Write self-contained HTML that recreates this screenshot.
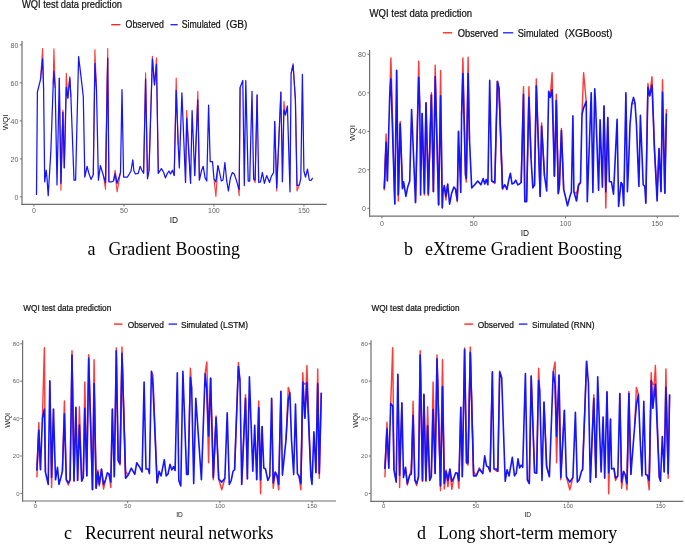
<!DOCTYPE html>
<html><head><meta charset="utf-8"><title>WQI test data prediction</title>
<style>html,body{margin:0;padding:0;background:#fff;width:685px;height:544px;overflow:hidden}svg{display:block}</style>
</head><body>
<svg width="685" height="544" viewBox="0 0 685 544" font-family='"Liberation Sans", Arial, sans-serif'>
<rect width="685" height="544" fill="#fff"/>
<text x="22" y="8.3" font-size="10.6" fill="#111" stroke="#111" stroke-width="0.22" textLength="100.0" lengthAdjust="spacingAndGlyphs">WQI test data prediction</text>
<line x1="111.2" y1="24.7" x2="120.4" y2="24.7" stroke="#ff1a1a" stroke-width="1.3"/>
<line x1="170.5" y1="24.7" x2="177.7" y2="24.7" stroke="#1a1aff" stroke-width="1.3"/>
<text x="125.6" y="27.8" font-size="10.2" fill="#111" stroke="#111" stroke-width="0.22" textLength="38.2" lengthAdjust="spacingAndGlyphs">Observed</text>
<text x="181.8" y="27.8" font-size="10.2" fill="#111" stroke="#111" stroke-width="0.22" textLength="38.8" lengthAdjust="spacingAndGlyphs">Simulated</text>
<text x="226" y="27.8" font-size="10.8" fill="#111" stroke="#111" stroke-width="0.22" textLength="21.4" lengthAdjust="spacingAndGlyphs">(GB)</text>
<line x1="22" y1="41" x2="22" y2="204.9" stroke="#6e6e6e" stroke-width="1.2"/>
<line x1="21.4" y1="204.3" x2="326.7" y2="204.3" stroke="#6e6e6e" stroke-width="1.2"/>
<line x1="19.8" y1="44.9" x2="22" y2="44.9" stroke="#6e6e6e" stroke-width="1"/>
<text x="18.4" y="47.7" font-size="7.7" fill="#606060" text-anchor="end" textLength="7.80" lengthAdjust="spacingAndGlyphs">80</text>
<line x1="19.8" y1="82.9" x2="22" y2="82.9" stroke="#6e6e6e" stroke-width="1"/>
<text x="18.4" y="85.7" font-size="7.7" fill="#606060" text-anchor="end" textLength="7.80" lengthAdjust="spacingAndGlyphs">60</text>
<line x1="19.8" y1="120.9" x2="22" y2="120.9" stroke="#6e6e6e" stroke-width="1"/>
<text x="18.4" y="123.7" font-size="7.7" fill="#606060" text-anchor="end" textLength="7.80" lengthAdjust="spacingAndGlyphs">40</text>
<line x1="19.8" y1="158.9" x2="22" y2="158.9" stroke="#6e6e6e" stroke-width="1"/>
<text x="18.4" y="161.7" font-size="7.7" fill="#606060" text-anchor="end" textLength="7.80" lengthAdjust="spacingAndGlyphs">20</text>
<line x1="19.8" y1="196.9" x2="22" y2="196.9" stroke="#6e6e6e" stroke-width="1"/>
<text x="18.4" y="199.7" font-size="7.7" fill="#606060" text-anchor="end" textLength="3.90" lengthAdjust="spacingAndGlyphs">0</text>
<line x1="33.9" y1="204.3" x2="33.9" y2="206.5" stroke="#6e6e6e" stroke-width="1"/>
<text x="33.9" y="213.2" font-size="7.7" fill="#606060" text-anchor="middle" textLength="3.90" lengthAdjust="spacingAndGlyphs">0</text>
<line x1="123.9" y1="204.3" x2="123.9" y2="206.5" stroke="#6e6e6e" stroke-width="1"/>
<text x="123.9" y="213.2" font-size="7.7" fill="#606060" text-anchor="middle" textLength="7.80" lengthAdjust="spacingAndGlyphs">50</text>
<line x1="213.9" y1="204.3" x2="213.9" y2="206.5" stroke="#6e6e6e" stroke-width="1"/>
<text x="213.9" y="213.2" font-size="7.7" fill="#606060" text-anchor="middle" textLength="11.70" lengthAdjust="spacingAndGlyphs">100</text>
<line x1="303.9" y1="204.3" x2="303.9" y2="206.5" stroke="#6e6e6e" stroke-width="1"/>
<text x="303.9" y="213.2" font-size="7.7" fill="#606060" text-anchor="middle" textLength="11.70" lengthAdjust="spacingAndGlyphs">150</text>
<text x="173.9" y="223.3" font-size="8.3" fill="#111" text-anchor="middle">ID</text>
<text transform="translate(5.0,122.4) rotate(-90)" x="0" y="2.8" font-size="7.9" fill="#111" text-anchor="middle">WQI</text>
<polyline points="40.5,79.7 42.6,48.5 43.6,89.0" fill="none" stroke="#ff3a3a" stroke-width="1.12" stroke-linejoin="round"/>
<polyline points="53.2,84.3 53.9,48.8 55.2,88.0" fill="none" stroke="#ff3a3a" stroke-width="1.12" stroke-linejoin="round"/>
<polyline points="59.3,78.1 60.9,190.3 62.9,112.1" fill="none" stroke="#ff3a3a" stroke-width="1.12" stroke-linejoin="round"/>
<polyline points="60.9,183.3 62.9,110.0 64.3,167.9" fill="none" stroke="#ff3a3a" stroke-width="1.12" stroke-linejoin="round"/>
<polyline points="64.3,167.9 66.3,73.2 67.8,98.2" fill="none" stroke="#ff3a3a" stroke-width="1.12" stroke-linejoin="round"/>
<polyline points="67.8,98.2 69.8,76.6 70.9,96.7" fill="none" stroke="#ff3a3a" stroke-width="1.12" stroke-linejoin="round"/>
<polyline points="93.3,174.8 94.9,49.6 96.5,90.0" fill="none" stroke="#ff3a3a" stroke-width="1.12" stroke-linejoin="round"/>
<polyline points="103.5,176.0 105.5,189.5 107.7,58.1" fill="none" stroke="#ff3a3a" stroke-width="1.12" stroke-linejoin="round"/>
<polyline points="105.5,182.5 107.7,48.5 108.9,181.8" fill="none" stroke="#ff3a3a" stroke-width="1.12" stroke-linejoin="round"/>
<polyline points="113.5,181.0 115.1,170.2 117.1,183.3" fill="none" stroke="#ff3a3a" stroke-width="1.12" stroke-linejoin="round"/>
<polyline points="115.1,174.0 117.1,191.8 120.5,172.5" fill="none" stroke="#ff3a3a" stroke-width="1.12" stroke-linejoin="round"/>
<polyline points="143.6,173.3 145.6,72.7 147.5,178.7" fill="none" stroke="#ff3a3a" stroke-width="1.12" stroke-linejoin="round"/>
<polyline points="149.0,171.0 152.4,56.2 154.5,85.0" fill="none" stroke="#ff3a3a" stroke-width="1.12" stroke-linejoin="round"/>
<polyline points="154.5,85.0 156.5,57.8 158.3,173.3" fill="none" stroke="#ff3a3a" stroke-width="1.12" stroke-linejoin="round"/>
<polyline points="174.2,175.6 176.2,78.1 178.2,144.7" fill="none" stroke="#ff3a3a" stroke-width="1.12" stroke-linejoin="round"/>
<polyline points="185.5,182.5 186.7,110.6 190.6,183.3" fill="none" stroke="#ff3a3a" stroke-width="1.12" stroke-linejoin="round"/>
<polyline points="194.7,175.6 197.8,91.3 199.4,180.2" fill="none" stroke="#ff3a3a" stroke-width="1.12" stroke-linejoin="round"/>
<polyline points="214.0,178.7 215.9,196.4 217.9,165.6" fill="none" stroke="#ff3a3a" stroke-width="1.12" stroke-linejoin="round"/>
<polyline points="238.1,186.4 239.2,195.7 240.1,87.4" fill="none" stroke="#ff3a3a" stroke-width="1.12" stroke-linejoin="round"/>
<polyline points="253.6,178.7 255.1,182.5 257.1,94.8" fill="none" stroke="#ff3a3a" stroke-width="1.12" stroke-linejoin="round"/>
<polyline points="274.7,121.4 276.7,191.0 280.9,92.0" fill="none" stroke="#ff3a3a" stroke-width="1.12" stroke-linejoin="round"/>
<polyline points="282.4,181.8 283.9,101.3 285.5,115.0" fill="none" stroke="#ff3a3a" stroke-width="1.12" stroke-linejoin="round"/>
<polyline points="291.1,73.5 293.1,63.5 295.4,99.8" fill="none" stroke="#ff3a3a" stroke-width="1.12" stroke-linejoin="round"/>
<polyline points="295.4,99.8 297.0,191.0 299.3,184.9" fill="none" stroke="#ff3a3a" stroke-width="1.12" stroke-linejoin="round"/>
<polyline points="36.5,194.9 37.4,92.0 40.5,79.7 42.6,58.8 43.6,89.0 44.7,181.8 46.2,170.2 47.0,178.0 48.2,195.7 50.8,152.4 53.2,84.3 53.9,71.2 55.2,88.0 57.0,184.9 59.3,78.1 60.9,183.3 62.9,112.1 64.3,167.9 66.3,87.4 67.8,98.2 69.8,78.1 70.9,96.7 74.0,180.2 75.6,180.2 78.6,56.5 81.0,76.6 83.3,96.7 84.8,177.1 87.1,166.3 88.6,172.5 91.0,179.4 93.3,174.8 94.9,63.5 96.5,90.0 98.4,180.2 100.4,165.6 102.0,171.0 103.5,176.0 105.5,182.5 107.7,58.1 108.9,181.8 112.0,181.8 113.5,181.0 115.1,174.0 117.1,183.3 120.5,172.5 122.0,89.7 123.6,177.1 127.4,177.1 129.7,173.3 131.0,171.0 132.8,159.8 133.9,171.0 135.5,174.0 138.2,173.3 140.1,166.3 141.7,170.0 143.6,173.3 145.6,78.9 147.5,178.7 149.0,171.0 152.4,58.8 154.5,85.0 156.5,64.3 158.3,173.3 161.4,168.6 163.7,172.5 165.4,177.9 167.4,173.3 169.0,171.0 170.5,174.0 172.4,170.2 174.2,175.6 176.2,90.5 178.2,144.7 179.3,167.9 181.9,92.8 185.5,182.5 186.7,118.3 190.6,183.3 192.1,110.6 194.7,175.6 197.8,99.8 199.4,180.2 201.4,171.0 203.2,166.3 205.1,177.9 206.8,181.0 208.6,105.2 210.2,161.7 212.5,161.7 214.0,178.7 215.9,182.0 217.9,165.6 219.5,172.0 221.3,181.0 223.0,180.0 224.9,162.5 226.6,180.2 228.4,191.0 230.4,177.9 232.4,172.5 234.2,174.0 236.1,179.4 238.1,186.4 239.2,189.5 240.1,87.4 242.8,80.5 244.3,185.6 245.8,80.5 248.2,181.0 249.7,181.0 252.0,91.3 253.6,178.7 255.1,180.0 257.1,94.8 258.7,182.5 260.5,181.8 262.4,172.5 264.4,183.3 266.7,175.6 269.5,182.5 271.3,176.4 273.6,172.5 274.7,121.4 276.7,188.0 280.9,92.0 282.4,181.8 283.9,109.8 285.5,115.0 287.4,106.0 290.0,191.8 291.1,73.5 293.1,65.0 295.4,99.8 297.0,185.6 299.3,184.9 300.8,178.7 302.4,74.3 303.9,171.0 305.5,177.1 307.5,169.1 309.3,180.2 311.0,180.5 312.7,177.9" fill="none" stroke="#1414ff" stroke-width="1.25" stroke-linejoin="round"/>
<text x="87.4" y="254.8" font-family='"Liberation Serif", "Times New Roman", serif' font-size="18" fill="#000">a</text>
<text x="108.5" y="254.8" font-family='"Liberation Serif", "Times New Roman", serif' font-size="18" fill="#000" textLength="131.5" lengthAdjust="spacingAndGlyphs">Gradient Boosting</text>
<text x="369.6" y="16.6" font-size="10.6" fill="#111" stroke="#111" stroke-width="0.22" textLength="102.5" lengthAdjust="spacingAndGlyphs">WQI test data prediction</text>
<line x1="442.8" y1="32.8" x2="452.2" y2="32.8" stroke="#ff1a1a" stroke-width="1.3"/>
<line x1="503" y1="32.8" x2="513.2" y2="32.8" stroke="#1a1aff" stroke-width="1.3"/>
<text x="457.7" y="36.6" font-size="10.2" fill="#111" stroke="#111" stroke-width="0.22" textLength="40.5" lengthAdjust="spacingAndGlyphs">Observed</text>
<text x="517.7" y="36.6" font-size="10.2" fill="#111" stroke="#111" stroke-width="0.22" textLength="41.0" lengthAdjust="spacingAndGlyphs">Simulated</text>
<text x="564.8" y="36.6" font-size="10.8" fill="#111" stroke="#111" stroke-width="0.22" textLength="47.7" lengthAdjust="spacingAndGlyphs">(XGBoost)</text>
<line x1="369.6" y1="50" x2="369.6" y2="216.79999999999998" stroke="#6e6e6e" stroke-width="1.2"/>
<line x1="369.0" y1="216.2" x2="679" y2="216.2" stroke="#6e6e6e" stroke-width="1.2"/>
<line x1="367.40000000000003" y1="54.3" x2="369.6" y2="54.3" stroke="#6e6e6e" stroke-width="1"/>
<text x="365.8" y="57.1" font-size="7.7" fill="#606060" text-anchor="end" textLength="7.80" lengthAdjust="spacingAndGlyphs">80</text>
<line x1="367.40000000000003" y1="92.8" x2="369.6" y2="92.8" stroke="#6e6e6e" stroke-width="1"/>
<text x="365.8" y="95.6" font-size="7.7" fill="#606060" text-anchor="end" textLength="7.80" lengthAdjust="spacingAndGlyphs">60</text>
<line x1="367.40000000000003" y1="131.3" x2="369.6" y2="131.3" stroke="#6e6e6e" stroke-width="1"/>
<text x="365.8" y="134.1" font-size="7.7" fill="#606060" text-anchor="end" textLength="7.80" lengthAdjust="spacingAndGlyphs">40</text>
<line x1="367.40000000000003" y1="169.8" x2="369.6" y2="169.8" stroke="#6e6e6e" stroke-width="1"/>
<text x="365.8" y="172.6" font-size="7.7" fill="#606060" text-anchor="end" textLength="7.80" lengthAdjust="spacingAndGlyphs">20</text>
<line x1="367.40000000000003" y1="208.3" x2="369.6" y2="208.3" stroke="#6e6e6e" stroke-width="1"/>
<text x="365.8" y="211.1" font-size="7.7" fill="#606060" text-anchor="end" textLength="3.90" lengthAdjust="spacingAndGlyphs">0</text>
<line x1="381.9" y1="216.2" x2="381.9" y2="218.39999999999998" stroke="#6e6e6e" stroke-width="1"/>
<text x="381.9" y="225.5" font-size="7.7" fill="#606060" text-anchor="middle" textLength="3.90" lengthAdjust="spacingAndGlyphs">0</text>
<line x1="473.7" y1="216.2" x2="473.7" y2="218.39999999999998" stroke="#6e6e6e" stroke-width="1"/>
<text x="473.7" y="225.5" font-size="7.7" fill="#606060" text-anchor="middle" textLength="7.80" lengthAdjust="spacingAndGlyphs">50</text>
<line x1="565.5" y1="216.2" x2="565.5" y2="218.39999999999998" stroke="#6e6e6e" stroke-width="1"/>
<text x="565.5" y="225.5" font-size="7.7" fill="#606060" text-anchor="middle" textLength="11.70" lengthAdjust="spacingAndGlyphs">100</text>
<line x1="657.3" y1="216.2" x2="657.3" y2="218.39999999999998" stroke="#6e6e6e" stroke-width="1"/>
<text x="657.3" y="225.5" font-size="7.7" fill="#606060" text-anchor="middle" textLength="11.70" lengthAdjust="spacingAndGlyphs">150</text>
<text x="524.9" y="235.7" font-size="8.3" fill="#111" text-anchor="middle">ID</text>
<text transform="translate(352.6,133.0) rotate(-90)" x="0" y="2.8" font-size="7.9" fill="#111" text-anchor="middle">WQI</text>
<polyline points="384.3,190.2 386.1,142.4" fill="none" stroke="#ff3a3a" stroke-width="1.44" stroke-linejoin="round"/>
<polyline points="384.3,188.7 386.1,134.0 387.4,181.0" fill="none" stroke="#ff3a3a" stroke-width="1.44" stroke-linejoin="round"/>
<polyline points="389.7,95.9 390.9,58.0 394.8,204.1" fill="none" stroke="#ff3a3a" stroke-width="1.44" stroke-linejoin="round"/>
<polyline points="396.6,70.4 398.3,201.0 400.2,123.7" fill="none" stroke="#ff3a3a" stroke-width="1.44" stroke-linejoin="round"/>
<polyline points="398.3,194.9 400.2,121.5 402.5,188.7" fill="none" stroke="#ff3a3a" stroke-width="1.44" stroke-linejoin="round"/>
<polyline points="415.5,202.6 418.7,61.1 419.8,107.5" fill="none" stroke="#ff3a3a" stroke-width="1.44" stroke-linejoin="round"/>
<polyline points="422.1,113.6 424.4,195.0 426.0,102.8" fill="none" stroke="#ff3a3a" stroke-width="1.44" stroke-linejoin="round"/>
<polyline points="426.0,102.8 428.3,195.6 431.4,95.1" fill="none" stroke="#ff3a3a" stroke-width="1.44" stroke-linejoin="round"/>
<polyline points="428.3,194.1 431.4,92.8 433.4,191.8" fill="none" stroke="#ff3a3a" stroke-width="1.44" stroke-linejoin="round"/>
<polyline points="433.4,191.8 435.2,65.3 438.6,204.9" fill="none" stroke="#ff3a3a" stroke-width="1.44" stroke-linejoin="round"/>
<polyline points="438.6,204.9 440.6,70.4 442.3,208.0" fill="none" stroke="#ff3a3a" stroke-width="1.44" stroke-linejoin="round"/>
<polyline points="444.3,185.6 445.9,200.0 447.7,184.0" fill="none" stroke="#ff3a3a" stroke-width="1.44" stroke-linejoin="round"/>
<polyline points="455.5,189.0 457.3,201.8 458.5,131.4" fill="none" stroke="#ff3a3a" stroke-width="1.44" stroke-linejoin="round"/>
<polyline points="461.6,114.4 462.9,58.0 465.5,174.8" fill="none" stroke="#ff3a3a" stroke-width="1.44" stroke-linejoin="round"/>
<polyline points="465.5,174.8 466.3,182.0 468.1,73.5" fill="none" stroke="#ff3a3a" stroke-width="1.44" stroke-linejoin="round"/>
<polyline points="466.3,178.6 468.1,57.3 469.5,140.0" fill="none" stroke="#ff3a3a" stroke-width="1.44" stroke-linejoin="round"/>
<polyline points="491.7,181.0 494.8,183.5 497.4,81.2" fill="none" stroke="#ff3a3a" stroke-width="1.44" stroke-linejoin="round"/>
<polyline points="497.4,81.2 499.0,90.0 502.5,188.4" fill="none" stroke="#ff3a3a" stroke-width="1.44" stroke-linejoin="round"/>
<polyline points="499.0,88.1 502.5,189.5 504.9,184.8" fill="none" stroke="#ff3a3a" stroke-width="1.44" stroke-linejoin="round"/>
<polyline points="521.2,182.5 523.5,86.6 524.8,201.8" fill="none" stroke="#ff3a3a" stroke-width="1.44" stroke-linejoin="round"/>
<polyline points="526.6,201.8 528.9,86.6 531.0,158.0" fill="none" stroke="#ff3a3a" stroke-width="1.44" stroke-linejoin="round"/>
<polyline points="534.5,185.0 536.3,78.9 540.2,196.4" fill="none" stroke="#ff3a3a" stroke-width="1.44" stroke-linejoin="round"/>
<polyline points="540.2,196.4 541.6,123.0 544.5,176.0" fill="none" stroke="#ff3a3a" stroke-width="1.44" stroke-linejoin="round"/>
<polyline points="550.2,97.4 552.1,72.7 554.4,176.3" fill="none" stroke="#ff3a3a" stroke-width="1.44" stroke-linejoin="round"/>
<polyline points="554.4,176.3 556.3,94.3 558.3,193.3" fill="none" stroke="#ff3a3a" stroke-width="1.44" stroke-linejoin="round"/>
<polyline points="556.3,100.5 558.3,194.0 559.4,185.6" fill="none" stroke="#ff3a3a" stroke-width="1.44" stroke-linejoin="round"/>
<polyline points="559.4,185.6 561.4,128.5 563.7,189.5" fill="none" stroke="#ff3a3a" stroke-width="1.44" stroke-linejoin="round"/>
<polyline points="573.9,191.8 576.5,193.5 578.5,185.6" fill="none" stroke="#ff3a3a" stroke-width="1.44" stroke-linejoin="round"/>
<polyline points="576.5,201.0 578.5,184.0 580.5,182.5" fill="none" stroke="#ff3a3a" stroke-width="1.44" stroke-linejoin="round"/>
<polyline points="582.0,114.4 583.6,72.7 586.2,101.3" fill="none" stroke="#ff3a3a" stroke-width="1.44" stroke-linejoin="round"/>
<polyline points="604.0,105.9 605.8,208.0 607.8,117.5" fill="none" stroke="#ff3a3a" stroke-width="1.44" stroke-linejoin="round"/>
<polyline points="631.8,104.0 633.5,103.6 635.0,103.0" fill="none" stroke="#ff3a3a" stroke-width="1.44" stroke-linejoin="round"/>
<polyline points="645.8,203.3 647.9,83.5 649.7,95.9" fill="none" stroke="#ff3a3a" stroke-width="1.44" stroke-linejoin="round"/>
<polyline points="649.7,95.9 652.0,76.6 654.5,150.0" fill="none" stroke="#ff3a3a" stroke-width="1.44" stroke-linejoin="round"/>
<polyline points="654.5,150.0 657.1,192.5 659.0,148.5" fill="none" stroke="#ff3a3a" stroke-width="1.44" stroke-linejoin="round"/>
<polyline points="661.0,191.8 662.5,79.7 664.8,193.3" fill="none" stroke="#ff3a3a" stroke-width="1.44" stroke-linejoin="round"/>
<polyline points="664.8,193.3 666.4,109.0" fill="none" stroke="#ff3a3a" stroke-width="1.44" stroke-linejoin="round"/>
<polyline points="384.3,188.7 386.1,142.4 387.4,181.0 389.7,95.9 390.9,78.9 394.8,204.1 396.6,70.4 398.3,194.9 400.2,123.7 402.5,188.7 403.6,181.7 405.9,196.4 407.7,187.1 409.7,181.0 411.6,109.5 415.5,202.6 418.7,77.3 419.8,107.5 420.6,194.9 422.1,113.6 424.4,193.3 426.0,102.8 428.3,194.1 431.4,95.1 433.4,191.8 435.2,76.6 438.6,204.9 440.6,95.9 442.3,208.0 443.1,191.8 444.3,185.6 445.9,196.4 447.7,184.0 449.6,204.1 451.6,193.3 453.9,187.1 455.5,189.0 457.3,200.3 458.5,131.4 460.8,192.5 461.6,114.4 462.9,73.5 465.5,174.8 466.3,178.6 468.1,73.5 469.5,140.0 471.7,187.9 474.7,184.8 477.8,181.0 480.9,184.8 483.2,178.6 484.8,184.0 486.3,179.4 487.9,184.8 489.7,80.4 491.7,181.0 494.8,182.5 497.4,81.2 499.0,88.1 502.5,188.4 504.9,184.8 506.9,189.5 508.9,179.4 510.4,173.2 512.0,184.0 514.0,183.0 515.8,180.2 517.7,184.8 519.5,184.0 521.2,182.5 523.5,94.3 524.8,201.8 526.6,201.8 528.9,97.4 531.0,158.0 532.8,187.9 534.5,185.0 536.3,85.8 540.2,196.4 541.6,126.0 544.5,176.0 546.7,191.0 548.7,91.2 550.2,97.4 552.1,89.7 554.4,176.3 556.3,100.5 558.3,193.3 559.4,185.6 561.4,130.6 563.7,189.5 565.5,197.0 567.5,205.7 569.9,196.4 571.4,191.8 572.9,115.9 573.9,191.8 576.5,201.0 578.5,185.6 580.5,182.5 582.0,114.4 583.6,108.0 586.2,101.3 587.3,201.8 591.2,92.8 592.9,192.5 594.7,88.9 595.5,102.0 598.6,190.2 600.1,119.8 602.4,187.1 604.0,105.9 605.8,191.8 607.8,117.5 609.4,181.7 611.4,181.7 613.5,194.1 617.1,119.3 618.6,206.4 621.0,182.5 622.3,184.0 623.7,205.7 625.9,92.8 627.4,191.8 628.6,165.0 630.0,125.0 631.8,104.0 633.5,97.4 635.0,103.0 636.5,125.0 638.0,165.0 638.9,186.4 640.4,115.2 643.2,184.8 644.8,186.4 645.8,203.3 647.9,87.4 649.7,95.9 652.0,85.0 654.5,150.0 657.1,201.0 659.0,148.5 661.0,191.8 662.5,92.0 664.8,193.3 666.4,113.6" fill="none" stroke="#1414ff" stroke-width="1.6" stroke-linejoin="round"/>
<text x="404" y="255.3" font-family='"Liberation Serif", "Times New Roman", serif' font-size="18" fill="#000">b</text>
<text x="425" y="255.3" font-family='"Liberation Serif", "Times New Roman", serif' font-size="18" fill="#000" textLength="197.0" lengthAdjust="spacingAndGlyphs">eXtreme Gradient Boosting</text>
<text x="23.3" y="310.8" font-size="9.2" fill="#111" stroke="#111" stroke-width="0.22" textLength="87.9" lengthAdjust="spacingAndGlyphs">WQI test data prediction</text>
<line x1="113.9" y1="324.1" x2="122.5" y2="324.1" stroke="#ff1a1a" stroke-width="1.3"/>
<line x1="168.6" y1="324.1" x2="177" y2="324.1" stroke="#1a1aff" stroke-width="1.3"/>
<text x="127.7" y="327.9" font-size="9.1" fill="#111" stroke="#111" stroke-width="0.22" textLength="36.2" lengthAdjust="spacingAndGlyphs">Observed</text>
<text x="180.9" y="327.9" font-size="9.1" fill="#111" stroke="#111" stroke-width="0.22" textLength="67.1" lengthAdjust="spacingAndGlyphs">Simulated (LSTM)</text>
<line x1="22.6" y1="340.2" x2="22.6" y2="501.6" stroke="#6e6e6e" stroke-width="1.2"/>
<line x1="22.0" y1="501" x2="335.9" y2="501" stroke="#6e6e6e" stroke-width="1.2"/>
<line x1="20.400000000000002" y1="343.8" x2="22.6" y2="343.8" stroke="#6e6e6e" stroke-width="1"/>
<text x="19.5" y="346.0" font-size="6.0" fill="#606060" text-anchor="end">80</text>
<line x1="20.400000000000002" y1="381.2" x2="22.6" y2="381.2" stroke="#6e6e6e" stroke-width="1"/>
<text x="19.5" y="383.4" font-size="6.0" fill="#606060" text-anchor="end">60</text>
<line x1="20.400000000000002" y1="418.6" x2="22.6" y2="418.6" stroke="#6e6e6e" stroke-width="1"/>
<text x="19.5" y="420.8" font-size="6.0" fill="#606060" text-anchor="end">40</text>
<line x1="20.400000000000002" y1="456.0" x2="22.6" y2="456.0" stroke="#6e6e6e" stroke-width="1"/>
<text x="19.5" y="458.2" font-size="6.0" fill="#606060" text-anchor="end">20</text>
<line x1="20.400000000000002" y1="493.4" x2="22.6" y2="493.4" stroke="#6e6e6e" stroke-width="1"/>
<text x="19.5" y="495.6" font-size="6.0" fill="#606060" text-anchor="end">0</text>
<line x1="35.5" y1="501" x2="35.5" y2="503.2" stroke="#6e6e6e" stroke-width="1"/>
<text x="35.5" y="508.1" font-size="6.0" fill="#606060" text-anchor="middle">0</text>
<line x1="127.7" y1="501" x2="127.7" y2="503.2" stroke="#6e6e6e" stroke-width="1"/>
<text x="127.7" y="508.1" font-size="6.0" fill="#606060" text-anchor="middle">50</text>
<line x1="219.9" y1="501" x2="219.9" y2="503.2" stroke="#6e6e6e" stroke-width="1"/>
<text x="219.9" y="508.1" font-size="6.0" fill="#606060" text-anchor="middle">100</text>
<line x1="312.1" y1="501" x2="312.1" y2="503.2" stroke="#6e6e6e" stroke-width="1"/>
<text x="312.1" y="508.1" font-size="6.0" fill="#606060" text-anchor="middle">150</text>
<text x="179.5" y="516.6" font-size="6.6" fill="#111" text-anchor="middle">ID</text>
<text transform="translate(7.2,420.4) rotate(-90)" x="0" y="2.7" font-size="7.4" fill="#111" text-anchor="middle">WQI</text>
<polyline points="36.9,477.4 38.8,430.4" fill="none" stroke="#ff3a3a" stroke-width="1.44" stroke-linejoin="round"/>
<polyline points="36.9,470.5 38.8,422.6 40.5,469.7" fill="none" stroke="#ff3a3a" stroke-width="1.44" stroke-linejoin="round"/>
<polyline points="42.4,418.3 44.4,347.6 45.4,472.0" fill="none" stroke="#ff3a3a" stroke-width="1.44" stroke-linejoin="round"/>
<polyline points="49.8,380.9 51.6,487.5 53.5,409.0" fill="none" stroke="#ff3a3a" stroke-width="1.44" stroke-linejoin="round"/>
<polyline points="62.4,471.3 64.4,401.0 66.3,479.8" fill="none" stroke="#ff3a3a" stroke-width="1.44" stroke-linejoin="round"/>
<polyline points="66.3,479.8 68.3,485.0 70.1,479.8" fill="none" stroke="#ff3a3a" stroke-width="1.44" stroke-linejoin="round"/>
<polyline points="70.1,479.8 72.0,350.7 74.0,480.5" fill="none" stroke="#ff3a3a" stroke-width="1.44" stroke-linejoin="round"/>
<polyline points="72.0,355.0 74.0,481.5 75.9,407.2" fill="none" stroke="#ff3a3a" stroke-width="1.44" stroke-linejoin="round"/>
<polyline points="77.6,480.5 79.4,406.7 81.7,481.3" fill="none" stroke="#ff3a3a" stroke-width="1.44" stroke-linejoin="round"/>
<polyline points="83.3,477.4 84.8,382.0 86.8,475.9" fill="none" stroke="#ff3a3a" stroke-width="1.44" stroke-linejoin="round"/>
<polyline points="86.8,475.9 88.7,354.7 92.5,489.8" fill="none" stroke="#ff3a3a" stroke-width="1.44" stroke-linejoin="round"/>
<polyline points="92.5,489.8 94.1,359.6 96.1,488.3" fill="none" stroke="#ff3a3a" stroke-width="1.44" stroke-linejoin="round"/>
<polyline points="94.1,383.6 96.1,487.0 97.9,472.0" fill="none" stroke="#ff3a3a" stroke-width="1.44" stroke-linejoin="round"/>
<polyline points="96.1,488.3 97.9,470.0 99.3,484.4" fill="none" stroke="#ff3a3a" stroke-width="1.44" stroke-linejoin="round"/>
<polyline points="97.9,472.0 99.3,486.0 101.5,469.0" fill="none" stroke="#ff3a3a" stroke-width="1.44" stroke-linejoin="round"/>
<polyline points="101.5,469.0 103.5,489.0 105.5,480.0" fill="none" stroke="#ff3a3a" stroke-width="1.44" stroke-linejoin="round"/>
<polyline points="109.0,474.0 110.8,487.5 112.4,409.0" fill="none" stroke="#ff3a3a" stroke-width="1.44" stroke-linejoin="round"/>
<polyline points="114.3,476.7 116.3,348.0 118.2,460.5" fill="none" stroke="#ff3a3a" stroke-width="1.44" stroke-linejoin="round"/>
<polyline points="118.2,460.5 120.0,465.1 122.0,353.4" fill="none" stroke="#ff3a3a" stroke-width="1.44" stroke-linejoin="round"/>
<polyline points="120.0,463.6 122.0,347.0 125.6,478.2" fill="none" stroke="#ff3a3a" stroke-width="1.44" stroke-linejoin="round"/>
<polyline points="122.0,353.4 125.6,471.3 128.2,475.1" fill="none" stroke="#ff3a3a" stroke-width="1.44" stroke-linejoin="round"/>
<polyline points="151.4,371.2 152.9,375.0 157.1,482.9" fill="none" stroke="#ff3a3a" stroke-width="1.44" stroke-linejoin="round"/>
<polyline points="188.1,474.4 190.4,368.1 191.7,389.0" fill="none" stroke="#ff3a3a" stroke-width="1.44" stroke-linejoin="round"/>
<polyline points="205.1,373.8 206.8,361.9 208.6,436.0" fill="none" stroke="#ff3a3a" stroke-width="1.44" stroke-linejoin="round"/>
<polyline points="206.8,390.0 208.6,462.8 210.6,378.1" fill="none" stroke="#ff3a3a" stroke-width="1.44" stroke-linejoin="round"/>
<polyline points="210.6,378.1 213.3,479.8 216.1,417.5" fill="none" stroke="#ff3a3a" stroke-width="1.44" stroke-linejoin="round"/>
<polyline points="213.3,477.4 216.1,416.0 218.7,479.0" fill="none" stroke="#ff3a3a" stroke-width="1.44" stroke-linejoin="round"/>
<polyline points="218.7,479.0 221.8,489.8 224.9,478.2" fill="none" stroke="#ff3a3a" stroke-width="1.44" stroke-linejoin="round"/>
<polyline points="234.6,469.7 238.4,362.4 240.0,381.2" fill="none" stroke="#ff3a3a" stroke-width="1.44" stroke-linejoin="round"/>
<polyline points="241.7,484.4 245.5,394.8 247.4,479.0" fill="none" stroke="#ff3a3a" stroke-width="1.44" stroke-linejoin="round"/>
<polyline points="256.7,479.8 258.7,401.0 260.6,480.0" fill="none" stroke="#ff3a3a" stroke-width="1.44" stroke-linejoin="round"/>
<polyline points="258.7,407.5 260.6,493.7 262.1,426.5" fill="none" stroke="#ff3a3a" stroke-width="1.44" stroke-linejoin="round"/>
<polyline points="271.6,398.2 273.2,488.3 275.2,472.0" fill="none" stroke="#ff3a3a" stroke-width="1.44" stroke-linejoin="round"/>
<polyline points="276.9,475.0 278.7,489.8 280.9,391.3" fill="none" stroke="#ff3a3a" stroke-width="1.44" stroke-linejoin="round"/>
<polyline points="286.0,440.0 288.3,387.4 289.9,392.8" fill="none" stroke="#ff3a3a" stroke-width="1.44" stroke-linejoin="round"/>
<polyline points="299.0,476.0 300.9,489.8 302.8,382.0" fill="none" stroke="#ff3a3a" stroke-width="1.44" stroke-linejoin="round"/>
<polyline points="300.9,483.6 302.8,372.7 304.8,418.3" fill="none" stroke="#ff3a3a" stroke-width="1.44" stroke-linejoin="round"/>
<polyline points="302.8,382.0 304.8,384.3 306.9,382.5" fill="none" stroke="#ff3a3a" stroke-width="1.44" stroke-linejoin="round"/>
<polyline points="304.8,418.3 306.9,365.5 310.9,476.7" fill="none" stroke="#ff3a3a" stroke-width="1.44" stroke-linejoin="round"/>
<polyline points="315.9,472.8 317.7,368.9 319.3,473.6" fill="none" stroke="#ff3a3a" stroke-width="1.44" stroke-linejoin="round"/>
<polyline points="317.7,383.6 319.3,478.2 321.3,392.8" fill="none" stroke="#ff3a3a" stroke-width="1.44" stroke-linejoin="round"/>
<polyline points="36.9,470.5 38.8,430.4 40.5,469.7 42.4,418.3 44.4,409.0 45.4,472.0 48.2,484.4 49.8,380.9 51.6,477.4 53.5,409.0 55.5,479.8 57.5,467.4 59.0,484.4 60.9,477.4 62.4,471.3 64.4,413.7 66.3,479.8 68.3,482.9 70.1,479.8 72.0,355.0 74.0,480.5 75.9,407.2 77.6,480.5 79.4,425.0 81.7,481.3 83.3,477.4 84.8,408.3 86.8,475.9 88.7,358.1 92.5,489.8 94.1,383.6 96.1,488.3 97.9,472.0 99.3,484.4 101.5,469.0 103.5,484.4 105.5,480.0 107.4,472.8 109.0,474.0 110.8,482.1 112.4,409.0 114.3,476.7 116.3,350.7 118.2,460.5 120.0,463.6 122.0,353.4 125.6,478.2 128.2,475.1 131.3,468.2 134.8,474.4 136.7,462.8 139.8,467.4 142.1,472.0 144.1,382.0 146.0,469.0 148.3,469.0 149.4,473.6 151.4,371.2 152.9,385.0 157.1,482.9 159.1,471.3 161.1,475.9 164.3,459.7 166.2,475.9 168.0,474.0 170.0,464.3 171.8,470.0 173.6,466.6 175.1,470.5 177.3,372.7 178.8,480.5 180.8,485.9 182.9,371.2 186.6,474.4 188.1,474.4 190.4,377.4 191.7,389.0 193.7,483.6 195.8,398.2 201.4,479.8 203.5,420.0 205.1,373.8 206.8,390.0 208.6,436.0 210.6,378.1 213.3,477.4 216.1,417.5 218.7,479.0 221.8,482.1 224.9,478.2 227.2,412.9 229.3,484.4 231.2,480.5 233.0,471.3 234.6,469.7 238.4,366.6 240.0,381.2 241.7,484.4 245.5,398.2 247.4,479.0 249.4,376.9 252.8,471.3 254.7,425.4 256.7,479.8 258.7,407.5 260.6,480.0 262.1,426.5 263.8,468.0 265.5,469.0 267.9,480.5 269.8,476.0 271.6,398.2 273.2,482.9 275.2,472.0 276.9,475.0 278.7,484.4 280.9,391.3 282.4,475.1 286.0,440.0 288.3,400.0 289.9,392.8 291.5,440.0 293.7,474.4 295.5,404.1 297.4,473.6 299.0,476.0 300.9,483.6 302.8,382.0 304.8,418.3 306.9,382.5 310.9,476.7 312.0,484.4 313.9,431.9 315.9,472.8 317.7,383.6 319.3,473.6 321.3,392.8" fill="none" stroke="#1414ff" stroke-width="1.6" stroke-linejoin="round"/>
<text x="64" y="538.7" font-family='"Liberation Serif", "Times New Roman", serif' font-size="18" fill="#000">c</text>
<text x="85" y="538.7" font-family='"Liberation Serif", "Times New Roman", serif' font-size="18" fill="#000" textLength="188.5" lengthAdjust="spacingAndGlyphs">Recurrent neural networks</text>
<text x="371.4" y="310.8" font-size="9.2" fill="#111" stroke="#111" stroke-width="0.22" textLength="88.1" lengthAdjust="spacingAndGlyphs">WQI test data prediction</text>
<line x1="464.3" y1="324.1" x2="473.2" y2="324.1" stroke="#ff1a1a" stroke-width="1.3"/>
<line x1="518.8" y1="324.1" x2="527.4" y2="324.1" stroke="#1a1aff" stroke-width="1.3"/>
<text x="477.7" y="327.9" font-size="9.1" fill="#111" stroke="#111" stroke-width="0.22" textLength="36.2" lengthAdjust="spacingAndGlyphs">Observed</text>
<text x="532.1" y="327.9" font-size="9.1" fill="#111" stroke="#111" stroke-width="0.22" textLength="62.4" lengthAdjust="spacingAndGlyphs">Simulated (RNN)</text>
<line x1="371" y1="340.2" x2="371" y2="501.90000000000003" stroke="#6e6e6e" stroke-width="1.2"/>
<line x1="370.4" y1="501.3" x2="683.3" y2="501.3" stroke="#6e6e6e" stroke-width="1.2"/>
<line x1="368.8" y1="343.8" x2="371" y2="343.8" stroke="#6e6e6e" stroke-width="1"/>
<text x="367.8" y="346.0" font-size="6.0" fill="#606060" text-anchor="end">80</text>
<line x1="368.8" y1="381.2" x2="371" y2="381.2" stroke="#6e6e6e" stroke-width="1"/>
<text x="367.8" y="383.4" font-size="6.0" fill="#606060" text-anchor="end">60</text>
<line x1="368.8" y1="418.6" x2="371" y2="418.6" stroke="#6e6e6e" stroke-width="1"/>
<text x="367.8" y="420.8" font-size="6.0" fill="#606060" text-anchor="end">40</text>
<line x1="368.8" y1="456.0" x2="371" y2="456.0" stroke="#6e6e6e" stroke-width="1"/>
<text x="367.8" y="458.2" font-size="6.0" fill="#606060" text-anchor="end">20</text>
<line x1="368.8" y1="493.4" x2="371" y2="493.4" stroke="#6e6e6e" stroke-width="1"/>
<text x="367.8" y="495.6" font-size="6.0" fill="#606060" text-anchor="end">0</text>
<line x1="383.6" y1="501.3" x2="383.6" y2="503.5" stroke="#6e6e6e" stroke-width="1"/>
<text x="383.6" y="508.1" font-size="6.0" fill="#606060" text-anchor="middle">0</text>
<line x1="475.9" y1="501.3" x2="475.9" y2="503.5" stroke="#6e6e6e" stroke-width="1"/>
<text x="475.9" y="508.1" font-size="6.0" fill="#606060" text-anchor="middle">50</text>
<line x1="568.1" y1="501.3" x2="568.1" y2="503.5" stroke="#6e6e6e" stroke-width="1"/>
<text x="568.1" y="508.1" font-size="6.0" fill="#606060" text-anchor="middle">100</text>
<line x1="660.7" y1="501.3" x2="660.7" y2="503.5" stroke="#6e6e6e" stroke-width="1"/>
<text x="660.7" y="508.1" font-size="6.0" fill="#606060" text-anchor="middle">150</text>
<text x="527.8" y="516.6" font-size="6.6" fill="#111" text-anchor="middle">ID</text>
<text transform="translate(355.4,420.4) rotate(-90)" x="0" y="2.7" font-size="7.4" fill="#111" text-anchor="middle">WQI</text>
<polyline points="384.9,477.4 387.0,428.8" fill="none" stroke="#ff3a3a" stroke-width="1.44" stroke-linejoin="round"/>
<polyline points="384.9,469.0 387.0,422.3 388.8,468.2" fill="none" stroke="#ff3a3a" stroke-width="1.44" stroke-linejoin="round"/>
<polyline points="390.7,403.6 392.7,347.6 394.0,470.0" fill="none" stroke="#ff3a3a" stroke-width="1.44" stroke-linejoin="round"/>
<polyline points="397.8,374.3 399.6,487.5 401.9,402.9" fill="none" stroke="#ff3a3a" stroke-width="1.44" stroke-linejoin="round"/>
<polyline points="405.5,467.4 407.3,485.0 409.7,475.1" fill="none" stroke="#ff3a3a" stroke-width="1.44" stroke-linejoin="round"/>
<polyline points="409.7,475.1 411.3,470.0 413.1,415.2" fill="none" stroke="#ff3a3a" stroke-width="1.44" stroke-linejoin="round"/>
<polyline points="411.3,474.0 413.1,401.3 414.8,479.8" fill="none" stroke="#ff3a3a" stroke-width="1.44" stroke-linejoin="round"/>
<polyline points="414.8,479.8 416.6,485.5 418.5,476.7" fill="none" stroke="#ff3a3a" stroke-width="1.44" stroke-linejoin="round"/>
<polyline points="418.5,476.7 420.2,350.7 422.5,480.5" fill="none" stroke="#ff3a3a" stroke-width="1.44" stroke-linejoin="round"/>
<polyline points="420.2,355.0 422.5,481.5 423.9,394.4" fill="none" stroke="#ff3a3a" stroke-width="1.44" stroke-linejoin="round"/>
<polyline points="423.9,394.4 425.9,481.5 427.6,425.7" fill="none" stroke="#ff3a3a" stroke-width="1.44" stroke-linejoin="round"/>
<polyline points="425.9,480.5 427.6,406.7 429.7,480.5" fill="none" stroke="#ff3a3a" stroke-width="1.44" stroke-linejoin="round"/>
<polyline points="431.3,476.7 433.1,382.0 435.1,473.6" fill="none" stroke="#ff3a3a" stroke-width="1.44" stroke-linejoin="round"/>
<polyline points="435.1,473.6 437.0,355.0 440.5,485.9" fill="none" stroke="#ff3a3a" stroke-width="1.44" stroke-linejoin="round"/>
<polyline points="437.0,358.8 440.5,490.6 442.5,386.6" fill="none" stroke="#ff3a3a" stroke-width="1.44" stroke-linejoin="round"/>
<polyline points="440.5,485.9 442.5,359.6 444.3,483.5" fill="none" stroke="#ff3a3a" stroke-width="1.44" stroke-linejoin="round"/>
<polyline points="442.5,386.6 444.3,489.0 446.1,471.3" fill="none" stroke="#ff3a3a" stroke-width="1.44" stroke-linejoin="round"/>
<polyline points="444.3,483.5 446.1,470.0 447.9,480.5" fill="none" stroke="#ff3a3a" stroke-width="1.44" stroke-linejoin="round"/>
<polyline points="446.1,471.3 447.9,486.7 449.9,469.0" fill="none" stroke="#ff3a3a" stroke-width="1.44" stroke-linejoin="round"/>
<polyline points="449.9,469.0 451.8,489.3 453.8,478.0" fill="none" stroke="#ff3a3a" stroke-width="1.44" stroke-linejoin="round"/>
<polyline points="457.3,473.0 458.9,488.3 460.8,407.2" fill="none" stroke="#ff3a3a" stroke-width="1.44" stroke-linejoin="round"/>
<polyline points="462.3,476.7 464.6,348.0 466.5,462.8" fill="none" stroke="#ff3a3a" stroke-width="1.44" stroke-linejoin="round"/>
<polyline points="466.5,462.8 468.0,465.1 470.3,352.2" fill="none" stroke="#ff3a3a" stroke-width="1.44" stroke-linejoin="round"/>
<polyline points="468.0,463.0 470.3,347.0 473.6,475.9" fill="none" stroke="#ff3a3a" stroke-width="1.44" stroke-linejoin="round"/>
<polyline points="470.3,352.2 473.6,471.3 476.2,475.9" fill="none" stroke="#ff3a3a" stroke-width="1.44" stroke-linejoin="round"/>
<polyline points="476.2,475.9 479.3,468.0 482.8,473.6" fill="none" stroke="#ff3a3a" stroke-width="1.44" stroke-linejoin="round"/>
<polyline points="488.3,467.0 490.1,472.0 492.4,371.7" fill="none" stroke="#ff3a3a" stroke-width="1.44" stroke-linejoin="round"/>
<polyline points="494.0,469.0 496.3,471.0 497.8,471.3" fill="none" stroke="#ff3a3a" stroke-width="1.44" stroke-linejoin="round"/>
<polyline points="497.8,471.3 499.7,371.0 501.7,378.1" fill="none" stroke="#ff3a3a" stroke-width="1.44" stroke-linejoin="round"/>
<polyline points="529.3,483.6 531.2,375.5 534.6,472.8" fill="none" stroke="#ff3a3a" stroke-width="1.44" stroke-linejoin="round"/>
<polyline points="536.6,473.3 538.6,368.1 539.8,392.0" fill="none" stroke="#ff3a3a" stroke-width="1.44" stroke-linejoin="round"/>
<polyline points="544.0,402.1 546.6,465.0 549.4,476.7" fill="none" stroke="#ff3a3a" stroke-width="1.44" stroke-linejoin="round"/>
<polyline points="553.2,371.7 555.1,361.9 556.6,436.5" fill="none" stroke="#ff3a3a" stroke-width="1.44" stroke-linejoin="round"/>
<polyline points="555.1,385.0 556.6,462.8 559.0,375.1" fill="none" stroke="#ff3a3a" stroke-width="1.44" stroke-linejoin="round"/>
<polyline points="559.0,375.1 560.8,479.8 564.4,410.3" fill="none" stroke="#ff3a3a" stroke-width="1.44" stroke-linejoin="round"/>
<polyline points="566.4,476.7 569.8,489.8 572.9,477.4" fill="none" stroke="#ff3a3a" stroke-width="1.44" stroke-linejoin="round"/>
<polyline points="581.5,471.3 582.6,469.0 586.6,361.2" fill="none" stroke="#ff3a3a" stroke-width="1.44" stroke-linejoin="round"/>
<polyline points="590.3,482.1 593.8,394.8 595.9,477.4" fill="none" stroke="#ff3a3a" stroke-width="1.44" stroke-linejoin="round"/>
<polyline points="607.0,391.7 608.7,493.7 610.5,419.1" fill="none" stroke="#ff3a3a" stroke-width="1.44" stroke-linejoin="round"/>
<polyline points="613.9,468.2 615.5,480.5 617.8,475.9" fill="none" stroke="#ff3a3a" stroke-width="1.44" stroke-linejoin="round"/>
<polyline points="619.8,393.6 621.6,488.3 623.6,471.3" fill="none" stroke="#ff3a3a" stroke-width="1.44" stroke-linejoin="round"/>
<polyline points="625.3,475.0 627.0,489.8 628.9,393.6" fill="none" stroke="#ff3a3a" stroke-width="1.44" stroke-linejoin="round"/>
<polyline points="627.0,483.6 628.9,391.5 630.9,474.4" fill="none" stroke="#ff3a3a" stroke-width="1.44" stroke-linejoin="round"/>
<polyline points="634.8,424.2 636.4,387.4 638.4,394.4" fill="none" stroke="#ff3a3a" stroke-width="1.44" stroke-linejoin="round"/>
<polyline points="647.3,475.0 649.2,489.8 651.2,380.5" fill="none" stroke="#ff3a3a" stroke-width="1.44" stroke-linejoin="round"/>
<polyline points="649.2,480.5 651.2,372.7 652.8,408.3" fill="none" stroke="#ff3a3a" stroke-width="1.44" stroke-linejoin="round"/>
<polyline points="651.2,380.5 652.8,384.3 655.4,384.3" fill="none" stroke="#ff3a3a" stroke-width="1.44" stroke-linejoin="round"/>
<polyline points="652.8,408.3 655.4,365.5 659.3,477.4" fill="none" stroke="#ff3a3a" stroke-width="1.44" stroke-linejoin="round"/>
<polyline points="664.2,472.0 665.9,368.9 668.2,473.6" fill="none" stroke="#ff3a3a" stroke-width="1.44" stroke-linejoin="round"/>
<polyline points="665.9,387.4 668.2,478.2 669.6,394.4" fill="none" stroke="#ff3a3a" stroke-width="1.44" stroke-linejoin="round"/>
<polyline points="384.9,469.0 387.0,428.8 388.8,468.2 390.7,403.6 392.7,405.9 394.0,470.0 396.2,482.1 397.8,374.3 399.6,475.1 401.9,402.9 403.5,477.4 405.5,467.4 407.3,483.6 409.7,475.1 411.3,474.0 413.1,415.2 414.8,479.8 416.6,483.6 418.5,476.7 420.2,355.0 422.5,480.5 423.9,394.4 425.9,480.5 427.6,425.7 429.7,480.5 431.3,476.7 433.1,409.3 435.1,473.6 437.0,358.8 440.5,485.9 442.5,386.6 444.3,483.5 446.1,471.3 447.9,480.5 449.9,469.0 451.8,481.3 453.8,478.0 455.7,472.8 457.3,473.0 458.9,480.5 460.8,407.2 462.3,476.7 464.6,349.6 466.5,462.8 468.0,463.0 470.3,352.2 473.6,475.9 476.2,475.9 479.3,469.0 482.8,473.6 484.7,455.8 486.5,465.9 488.3,467.0 490.1,471.3 492.4,371.7 494.0,469.0 496.3,469.0 497.8,471.3 499.7,372.0 501.7,378.1 505.2,481.3 507.1,469.7 509.1,475.9 512.3,457.4 514.5,475.9 516.3,473.0 518.0,458.9 519.6,468.0 521.1,465.1 522.7,467.4 525.4,373.5 527.3,479.8 529.3,483.6 531.2,376.6 534.6,472.8 536.6,473.3 538.6,380.5 539.8,392.0 542.0,480.5 544.0,402.1 546.6,466.6 549.4,476.7 551.5,420.0 553.2,371.7 555.1,385.0 556.6,436.5 559.0,375.1 560.8,477.4 564.4,410.3 566.4,476.7 569.8,482.1 572.9,477.4 575.4,412.4 577.3,482.1 579.2,479.8 581.5,471.3 582.6,469.7 586.6,361.2 588.4,382.8 590.3,482.1 593.8,398.2 595.9,477.4 597.7,376.9 601.1,472.0 603.1,417.1 604.7,478.2 607.0,391.7 608.7,472.8 610.5,419.1 611.6,469.0 613.9,468.2 615.5,478.2 617.8,475.9 619.8,393.6 621.6,482.1 623.6,471.3 625.3,475.0 627.0,483.6 628.9,393.6 630.9,474.4 634.8,424.2 636.4,405.0 638.4,394.4 640.2,440.0 642.0,475.9 643.8,401.3 645.7,474.4 647.3,475.0 649.2,480.5 651.2,380.5 652.8,408.3 655.4,384.3 659.3,477.4 660.5,481.3 662.3,436.5 664.2,472.0 665.9,387.4 668.2,473.6 669.6,394.4" fill="none" stroke="#1414ff" stroke-width="1.6" stroke-linejoin="round"/>
<text x="417" y="538.7" font-family='"Liberation Serif", "Times New Roman", serif' font-size="18" fill="#000">d</text>
<text x="438" y="538.7" font-family='"Liberation Serif", "Times New Roman", serif' font-size="18" fill="#000" textLength="179.0" lengthAdjust="spacingAndGlyphs">Long short-term memory</text>
</svg>
</body></html>
